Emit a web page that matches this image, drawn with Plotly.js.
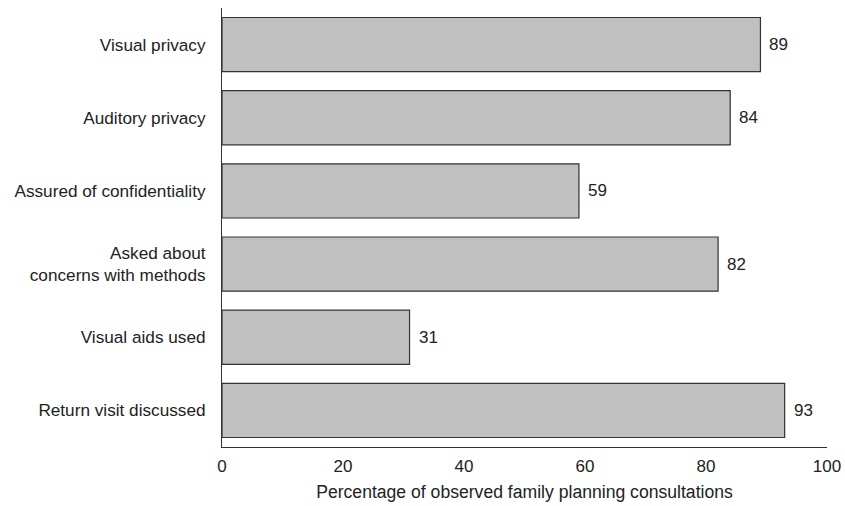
<!DOCTYPE html>
<html><head><meta charset="utf-8">
<script src="https://cdn.plot.ly/plotly-3.0.1.min.js"></script>
<style>html,body{margin:0;padding:0;background:#fff}#chart{width:845px;height:506px}</style>
</head><body><div id="chart"></div>
<script>
const categories = ["Visual privacy","Auditory privacy","Assured of confidentiality","Asked about<br>concerns with methods","Visual aids used","Return visit discussed"];
const values = [89, 84, 59, 82, 31, 93];
const xTicks = [0, 20, 40, 60, 80, 100];

const FONT = 'Liberation Sans, Arial, sans-serif';
const trace = {
  type: 'bar', orientation: 'h',
  y: categories, x: values,
  marker: {color: '#c0c0c0', line: {color: '#333', width: 1.2}},
  width: 0.74, hoverinfo: 'none'
};
const annotations = categories.map((c, i) => ({
  x: values[i], y: c, xref: 'x', yref: 'y', text: String(values[i]),
  showarrow: false, xanchor: 'left', yanchor: 'middle', xshift: 7,
  font: {family: FONT, size: 17, color: '#222'}
}));
const layout = {
  width: 845, height: 506,
  margin: {l: 222, r: 18, t: 8, b: 59},
  paper_bgcolor: '#fff', plot_bgcolor: '#fff',
  font: {family: FONT, size: 17, color: '#222'},
  showlegend: false,
  annotations: annotations,
  xaxis: {range: [0, 100], tickvals: xTicks, ticktext: xTicks.map(String),
    showgrid: false, zeroline: false, showline: true, linecolor: '#333', linewidth: 1,
    ticks: 'outside', ticklen: 4, tickcolor: 'rgba(0,0,0,0)', tickfont: {size: 17},
    title: {text: 'Percentage of observed family planning consultations', font: {size: 17.6}, standoff: 10}},
  yaxis: {autorange: false, range: [5.5, -0.5], type: 'category',
    showgrid: false, zeroline: false, showline: true, linecolor: '#333', linewidth: 1,
    ticks: 'outside', ticklen: 12, tickcolor: 'rgba(0,0,0,0)', tickfont: {size: 17.2}}
};
Plotly.newPlot('chart', [trace], layout, {displayModeBar: false, staticPlot: true});
</script></body></html>
